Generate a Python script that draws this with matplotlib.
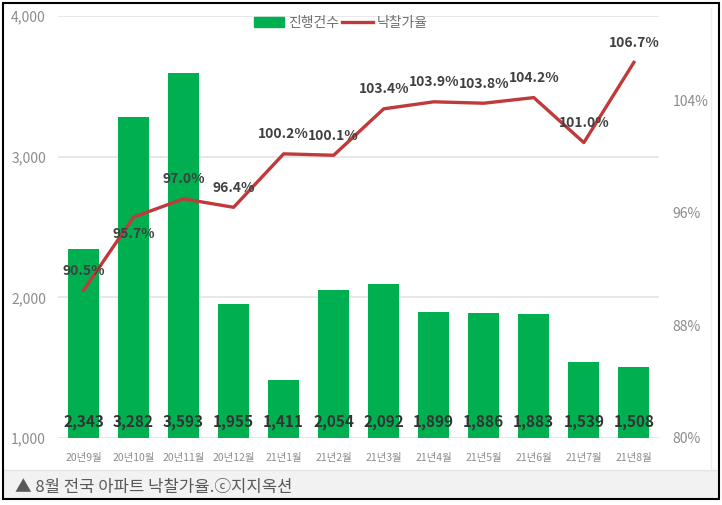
import matplotlib
matplotlib.use("Agg")
import matplotlib.pyplot as plt
import numpy as np
from matplotlib.patches import Rectangle, Patch
from matplotlib.lines import Line2D

#===========data===========
months = ["20년9월", "20년10월", "20년11월", "20년12월", "21년1월", "21년2월",
          "21년3월", "21년4월", "21년5월", "21년6월", "21년7월", "21년8월"]
counts = [2343, 3282, 3593, 1955, 1411, 2054, 2092, 1899, 1886, 1883, 1539, 1508]
rates = [90.5, 95.7, 97.0, 96.4, 100.2, 100.1, 103.4, 103.9, 103.8, 104.2, 101.0, 106.7]
left_ticks = [1000, 2000, 3000, 4000]
right_ticks = [80, 88, 96, 104]
caption = "▲ 8월 전국 아파트 낙찰가율.ⓒ지지옥션"

plt.rcParams['font.family'] = ['Noto Sans CJK KR', 'DejaVu Sans']

green = "#00B050"
red = "#C0393B"
gray = "#8c8c8c"

fig = plt.figure(figsize=(7.22, 5.05), dpi=100)
ax = fig.add_axes([0.081, 0.1327, 0.8316, 0.8356])
x = np.arange(len(months))

ax.bar(x, counts, width=0.62, color=green, zorder=2)
ax.set_ylim(1000, 4000)
ax.set_xlim(-0.5, len(months) - 0.5)
ax.set_yticks(left_ticks)
ax.set_yticklabels([f"{v:,}" for v in left_ticks])
ax.set_xticks(x)
ax.set_xticklabels(months)
ax.grid(axis='y', color="#e4e4e4", linewidth=1.2, zorder=0)
ax.set_axisbelow(True)
for s in ax.spines.values():
  s.set_visible(False)
ax.tick_params(axis='y', length=0, pad=9, labelsize=10, labelcolor=gray)
ax.tick_params(axis='x', length=0, pad=11, labelsize=7.5, labelcolor=gray)

for i, v in enumerate(counts):
  ax.annotate(f"{v:,}", xy=(i, 1000), xytext=(0, 11.5), textcoords='offset points',
              ha='center', va='center', fontsize=11, fontweight='bold', color="#333333", zorder=5)

ax2 = ax.twinx()
ax2.plot(x, rates, color=red, linewidth=2.4, zorder=3)
ax2.set_ylim(80, 110)
ax2.set_yticks(right_ticks)
ax2.set_yticklabels([f"{v}%" for v in right_ticks])
for s in ax2.spines.values():
  s.set_visible(False)
ax2.tick_params(axis='y', length=0, pad=10, labelsize=10, labelcolor=gray)

for i, v in enumerate(rates):
  dy = -12 if i == 1 else 14
  ax2.annotate(f"{v:.1f}%", xy=(i, v), xytext=(0, dy), textcoords='offset points',
               ha='center', va='center', fontsize=10, fontweight='bold', color="#404040", zorder=6)

handles = [Patch(color=green), Line2D([0], [0], color=red, linewidth=2.4)]
ax.legend(handles, ["진행건수", "낙찰가율"], loc='upper center', bbox_to_anchor=(0.47, 1.03),
          ncol=2, frameon=False, fontsize=10, labelcolor="#707070",
          handlelength=2.2, handletextpad=0.3, columnspacing=0.2)

# caption strip and frame
fig.patches.append(Rectangle((0.0042, 0.0119), 0.9916, 0.0574, transform=fig.transFigure,
                             facecolor="#f2f2f2", edgecolor="none", zorder=0))
fig.add_artist(Line2D([0.0042, 0.9958], [0.0693, 0.0693], transform=fig.transFigure,
                      color="#e6e6e6", linewidth=1))
fig.add_artist(Line2D([0.985, 0.985], [0.0693, 0.985], transform=fig.transFigure,
                      color="#eeeeee", linewidth=1))
fig.text(0.021, 0.034, caption, fontsize=12, color="#595959", va='center', ha='left')
fig.patches.append(Rectangle((0.0042, 0.0119), 0.9916, 0.982, transform=fig.transFigure,
                             facecolor="none", edgecolor="black", linewidth=1.5, zorder=10))

plt.savefig("out.png", dpi=100)
